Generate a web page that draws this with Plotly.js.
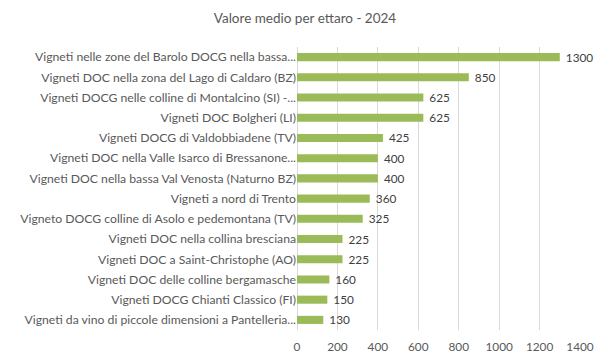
<!DOCTYPE html>
<html>
<head>
<meta charset="utf-8">
<script src="https://cdn.plot.ly/plotly-3.0.1.min.js"></script>
<style>html,body{margin:0;padding:0;background:#fff;}#chart{width:610px;height:363px;}</style>
</head>
<body>
<div id="chart"></div>
<script>
var categories = [
  "Vigneti nelle zone del Barolo DOCG nella bassa...",
  "Vigneti DOC nella zona del Lago di Caldaro (BZ)",
  "Vigneti DOCG nelle colline di Montalcino (SI) -...",
  "Vigneti DOC Bolgheri (LI)",
  "Vigneti DOCG di Valdobbiadene (TV)",
  "Vigneti DOC nella Valle Isarco di Bressanone...",
  "Vigneti DOC nella bassa Val Venosta (Naturno BZ)",
  "Vigneti a nord di Trento",
  "Vigneto DOCG colline di Asolo e pedemontana (TV)",
  "Vigneti DOC nella collina bresciana",
  "Vigneti DOC a Saint-Christophe (AO)",
  "Vigneti DOC delle colline bergamasche",
  "Vigneti DOCG Chianti Classico (FI)",
  "Vigneti da vino di piccole dimensioni a Pantelleria..."
];
var values = [1300, 850, 625, 625, 425, 400, 400, 360, 325, 225, 225, 160, 150, 130];
var xTicks = [0, 200, 400, 600, 800, 1000, 1200, 1400];
var titleText = "Valore medio per ettaro - 2024";

var font = "Lato, 'Open Sans', sans-serif";
var trace = {
  type: "bar",
  orientation: "h",
  y: categories,
  x: values,
  marker: {color: "#9bbb59"},
  text: values.map(function (v) { return "\u00a0" + v; }),
  textposition: "outside",
  constraintext: "none",
  textfont: {family: font, size: 11.8, color: "#404040"},
  cliponaxis: false,
  hoverinfo: "none"
};
var layout = {
  width: 610, height: 363,
  margin: {l: 297, r: 30, t: 47, b: 33},
  paper_bgcolor: "#fff", plot_bgcolor: "#fff",
  title: {text: titleText, x: 0.5, xanchor: "center", y: 0.95, yanchor: "middle",
    font: {family: font, size: 13.5, color: "#595959"}},
  bargap: 0.6,
  showlegend: false,
  xaxis: {
    range: [0, 1400], tickvals: xTicks, ticktext: xTicks.map(String),
    showgrid: true, gridcolor: "#d9d9d9", gridwidth: 1,
    zeroline: true, zerolinecolor: "#d9d9d9", zerolinewidth: 1,
    showline: false, ticks: "", ticklabelstandoff: 8,
    tickfont: {family: font, size: 11.8, color: "#595959"}
  },
  yaxis: {
    type: "category", autorange: "reversed",
    showgrid: false, zeroline: false, showline: false, ticks: "",
    tickfont: {family: font, size: 12.2, color: "#595959"}
  },
  font: {family: font}
};
Plotly.newPlot("chart", [trace], layout, {staticPlot: true, displayModeBar: false});
</script>
</body>
</html>
